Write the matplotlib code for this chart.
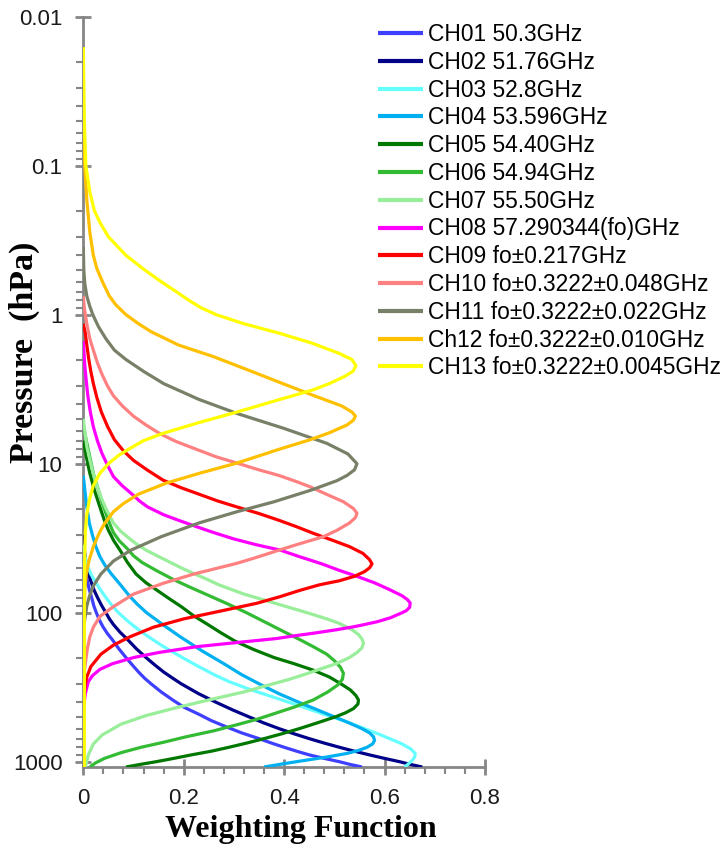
import matplotlib
matplotlib.use('Agg')
import matplotlib.pyplot as plt
from matplotlib.ticker import LogLocator, MultipleLocator, FuncFormatter, NullFormatter

plt.rcParams['font.family'] = ['Liberation Sans', 'DejaVu Sans']

# channel names and line colours
labels = ['CH01 50.3GHz', 'CH02 51.76GHz', 'CH03 52.8GHz', 'CH04 53.596GHz',
          'CH05 54.40GHz', 'CH06 54.94GHz', 'CH07 55.50GHz', 'CH08 57.290344(fo)GHz',
          'CH09 fo±0.217GHz', 'CH10 fo±0.3222±0.048GHz', 'CH11 fo±0.3222±0.022GHz',
          'Ch12 fo±0.3222±0.010GHz', 'CH13 fo±0.3222±0.0045GHz']
colors = ['#3F3FFF', '#000088', '#66FFFF', '#00B0F0', '#007800', '#33BB33', '#99EE99',
          '#FF00FF', '#FF0000', '#FF8080', '#788068', '#FFC000', '#FFFF00']

# weighting function profiles: pressure (hPa) and weight
ch01_p = [30, 38, 45, 53, 61, 70, 80, 90, 100, 112, 124, 138, 152, 175, 200, 225, 250, 275,
          300, 340, 385, 430, 480, 530, 580, 640, 700, 750, 800, 850, 900, 950, 1000, 1040, 1085]
ch01_w = [0, 0.001, 0.003, 0.005, 0.008, 0.012, 0.017, 0.021, 0.026, 0.032, 0.039, 0.048, 0.058,
          0.071, 0.085, 0.098, 0.11, 0.122, 0.135, 0.155, 0.178, 0.2, 0.23, 0.255, 0.283, 0.315,
          0.35, 0.375, 0.40, 0.425, 0.45, 0.48, 0.51, 0.53, 0.555]

ch02_p = [30, 38, 45, 52, 60, 70, 80, 90, 100, 110, 120, 135, 150, 175, 200, 225, 250, 275, 300,
          350, 400, 450, 500, 550, 600, 650, 700, 750, 800, 850, 900, 950, 1000, 1040, 1085]
ch02_w = [0, 0.002, 0.005, 0.009, 0.014, 0.021, 0.029, 0.037, 0.045, 0.052, 0.06, 0.073, 0.087,
          0.106, 0.125, 0.143, 0.16, 0.178, 0.195, 0.23, 0.265, 0.298, 0.33, 0.36, 0.39, 0.42,
          0.45, 0.48, 0.51, 0.54, 0.57, 0.6, 0.63, 0.65, 0.675]

ch03_p = [35, 38, 42, 48, 55, 62, 70, 80, 90, 100, 115, 130, 145, 165, 185, 205, 230, 260, 290,
          330, 370, 410, 450, 500, 540, 600, 650, 700, 760, 820, 880, 930, 980, 1030, 1085]
ch03_w = [0, 0.001, 0.003, 0.008, 0.015, 0.024, 0.034, 0.046, 0.058, 0.07, 0.09, 0.11, 0.13,
          0.155, 0.18, 0.203, 0.23, 0.26, 0.29, 0.335, 0.38, 0.42, 0.455, 0.495, 0.525, 0.56,
          0.587, 0.61, 0.635, 0.652, 0.661, 0.66, 0.655, 0.648, 0.64]

ch04_p = [12, 15, 19.5, 25, 30, 36, 42, 48, 55, 65, 78, 88, 100, 120, 145, 180, 220, 260, 300,
          350, 400, 450, 500, 550, 600, 640, 680, 720, 760, 800, 840, 880, 930, 975, 1030, 1085]
ch04_w = [0, 0.003, 0.007, 0.012, 0.018, 0.025, 0.033, 0.043, 0.056, 0.074, 0.093, 0.108, 0.126,
          0.158, 0.193, 0.236, 0.28, 0.315, 0.35, 0.39, 0.43, 0.467, 0.5, 0.53, 0.555, 0.57,
          0.578, 0.58, 0.576, 0.565, 0.548, 0.525, 0.485, 0.445, 0.4, 0.36]

ch05_p = [7, 9, 11.6, 15, 19.5, 24, 28, 33, 38, 46, 55, 63, 70, 80, 91, 105, 120, 137, 155, 177,
          200, 220, 243, 270, 300, 330, 360, 385, 410, 440, 470, 500, 550, 600, 650, 700, 750,
          800, 850, 900, 950, 1000, 1040, 1085]
ch05_w = [0, 0.006, 0.013, 0.022, 0.033, 0.042, 0.05, 0.061, 0.073, 0.088, 0.105, 0.125, 0.145,
          0.17, 0.195, 0.22, 0.248, 0.275, 0.302, 0.34, 0.38, 0.42, 0.458, 0.49, 0.513, 0.532,
          0.543, 0.548, 0.547, 0.538, 0.522, 0.502, 0.465, 0.43, 0.395, 0.36, 0.325, 0.29,
          0.255, 0.215, 0.18, 0.145, 0.115, 0.085]

ch06_p = [5.5, 7, 9, 12, 15, 18.5, 22, 25.5, 29, 33, 37, 41.5, 46, 52, 60, 68, 78, 88, 100, 117,
          137, 152, 169, 190, 210, 232, 255, 280, 305, 340, 385, 430, 470, 520, 560, 620, 680,
          740, 800, 870, 950, 1020, 1085]
ch06_w = [0, 0.006, 0.013, 0.021, 0.03, 0.038, 0.046, 0.053, 0.06, 0.072, 0.087, 0.1, 0.117,
          0.145, 0.18, 0.215, 0.255, 0.29, 0.325, 0.365, 0.405, 0.432, 0.458, 0.485, 0.5, 0.512,
          0.518, 0.516, 0.507, 0.487, 0.458, 0.42, 0.385, 0.345, 0.31, 0.26, 0.205, 0.16, 0.115,
          0.075, 0.042, 0.024, 0.013]

ch07_p = [5, 6, 7.7, 9.4, 11, 13, 15, 17, 20, 25, 28.5, 32, 35, 38, 42, 45, 50, 55, 60, 65, 75,
          86, 101, 110, 118, 130, 140, 150, 160, 172, 185, 200, 219, 240, 260, 280, 300, 340,
          385, 430, 490, 560, 660, 760, 900, 1085]
ch07_w = [0, 0.003, 0.007, 0.013, 0.018, 0.024, 0.03, 0.036, 0.045, 0.06, 0.075, 0.093, 0.108,
          0.125, 0.15, 0.168, 0.195, 0.222, 0.248, 0.27, 0.32, 0.38, 0.45, 0.485, 0.51, 0.535,
          0.548, 0.555, 0.558, 0.555, 0.545, 0.53, 0.505, 0.47, 0.44, 0.41, 0.378, 0.32, 0.25,
          0.19, 0.125, 0.075, 0.038, 0.02, 0.01, 0.004]

ch08_p = [1.5, 2.2, 2.8, 3.5, 4.5, 5.65, 7, 8.5, 10.2, 12.2, 14, 16, 17.8, 19.5, 22, 24, 26.5,
          29, 32, 35, 38, 42, 47, 52, 57, 63, 70, 77, 82, 86, 92, 97, 101, 108, 115, 120, 124,
          130, 137, 143, 149, 158, 169, 185, 200, 220, 240, 265, 290, 350, 450]
ch08_w = [0, 0.003, 0.006, 0.009, 0.014, 0.02, 0.028, 0.037, 0.048, 0.06, 0.077, 0.097, 0.112,
          0.128, 0.16, 0.19, 0.226, 0.26, 0.3, 0.345, 0.392, 0.43, 0.475, 0.51, 0.545, 0.58,
          0.61, 0.635, 0.646, 0.651, 0.65, 0.643, 0.632, 0.612, 0.585, 0.56, 0.54, 0.505, 0.46,
          0.42, 0.385, 0.31, 0.226, 0.15, 0.1, 0.058, 0.033, 0.018, 0.01, 0.004, 0]

ch09_p = [1.15, 1.33, 1.6, 2, 2.4, 2.9, 3.6, 4.5, 5.6, 6.9, 8.2, 9.5, 11, 12.9, 14.5, 16, 17.8,
          19.5, 21.6, 24, 26.5, 29.3, 33, 36, 40, 44, 47, 50, 53, 57, 61, 65, 71, 78, 86.5, 98,
          110, 125, 145, 165, 190, 230, 270, 300, 350, 400]
ch09_w = [0, 0.004, 0.007, 0.011, 0.015, 0.02, 0.027, 0.036, 0.048, 0.062, 0.08, 0.1, 0.127,
          0.159, 0.195, 0.23, 0.268, 0.306, 0.35, 0.39, 0.425, 0.458, 0.5, 0.53, 0.557, 0.57,
          0.575, 0.57, 0.56, 0.54, 0.51, 0.47, 0.43, 0.392, 0.345, 0.27, 0.2, 0.14, 0.093, 0.06,
          0.035, 0.015, 0.007, 0.004, 0.002, 0]

ch10_p = [0.75, 0.9, 1.0, 1.2, 1.45, 1.73, 2.1, 2.5, 3.0, 3.5, 4.1, 4.8, 5.5, 6.3, 7.1, 8, 9,
          9.9, 11, 12, 13.2, 14.3, 15.8, 18, 20, 21.5, 23, 25, 28, 30.9, 34.5, 38, 42, 46.6,
          55, 63.5, 75, 91, 106, 125, 145, 175, 207, 250, 300]
ch10_w = [0, 0.002, 0.004, 0.008, 0.013, 0.02, 0.028, 0.037, 0.048, 0.06, 0.078, 0.1, 0.125,
          0.153, 0.185, 0.225, 0.265, 0.306, 0.35, 0.39, 0.425, 0.452, 0.48, 0.518, 0.538,
          0.545, 0.542, 0.53, 0.505, 0.478, 0.43, 0.39, 0.35, 0.306, 0.22, 0.159, 0.1, 0.06,
          0.033, 0.02, 0.013, 0.008, 0.005, 0.002, 0]

ch11_p = [0.35, 0.5, 0.62, 0.75, 0.88, 1.0, 1.2, 1.45, 1.73, 2.0, 2.4, 2.9, 3.7, 4.6, 5.8, 7.3,
          8.6, 10, 11, 12, 13, 15.1, 18, 21, 25, 30.9, 38, 45, 55, 66, 78, 90, 110, 130, 150]
ch11_w = [0, 0.001, 0.003, 0.007, 0.013, 0.019, 0.03, 0.045, 0.062, 0.085, 0.12, 0.16, 0.23,
          0.306, 0.4, 0.485, 0.527, 0.545, 0.54, 0.525, 0.505, 0.452, 0.38, 0.306, 0.23, 0.155,
          0.095, 0.06, 0.035, 0.02, 0.012, 0.007, 0.003, 0.001, 0]

ch12_p = [0.06, 0.1, 0.17, 0.28, 0.4, 0.49, 0.62, 0.75, 0.86, 1.0, 1.15, 1.3, 1.6, 1.91, 2.4,
          2.88, 3.5, 4.1, 4.5, 4.79, 5.1, 5.5, 6.2, 6.9, 8, 9.9, 11.5, 13.5, 16, 18.5, 21, 25,
          29, 36, 45, 55, 70, 100, 1085]
ch12_w = [0, 0.003, 0.007, 0.013, 0.02, 0.027, 0.04, 0.052, 0.065, 0.085, 0.11, 0.135, 0.19,
          0.259, 0.335, 0.395, 0.46, 0.515, 0.535, 0.542, 0.538, 0.525, 0.49, 0.452, 0.39,
          0.306, 0.235, 0.165, 0.11, 0.08, 0.06, 0.043, 0.032, 0.02, 0.011, 0.006, 0.003,
          0.002, 0.001]

ch13_p = [0.016, 0.05, 0.1, 0.15, 0.2, 0.24, 0.3, 0.4, 0.5, 0.6, 0.7, 0.8, 0.9, 1.0, 1.15, 1.33,
          1.55, 1.82, 2.0, 2.2, 2.4, 2.6, 2.9, 3.2, 3.8, 4.5, 5.3, 6.25, 7, 8, 8.8, 10, 11.6, 14,
          17.5, 22, 29, 40, 60, 1085]
ch13_w = [0, 0.002, 0.005, 0.013, 0.022, 0.033, 0.05, 0.085, 0.122, 0.155, 0.185, 0.21, 0.235,
          0.265, 0.32, 0.39, 0.455, 0.51, 0.535, 0.543, 0.537, 0.52, 0.49, 0.457, 0.38, 0.306,
          0.23, 0.159, 0.12, 0.09, 0.07, 0.05, 0.033, 0.02, 0.012, 0.007, 0.004, 0.003, 0.002,
          0.002]

pressures = [ch01_p, ch02_p, ch03_p, ch04_p, ch05_p, ch06_p, ch07_p,
             ch08_p, ch09_p, ch10_p, ch11_p, ch12_p, ch13_p]
weights = [ch01_w, ch02_w, ch03_w, ch04_w, ch05_w, ch06_w, ch07_w,
           ch08_w, ch09_w, ch10_w, ch11_w, ch12_w, ch13_w]

W, H = 727, 849
axis_grey = '#868686'

fig = plt.figure(figsize=(W / 100, H / 100), dpi=100)
ax = fig.add_axes([83.3 / W, 1 - 767 / H, (485 - 83.3) / W, (767 - 16.7) / H])

for lab, col, w, p in zip(labels, colors, weights, pressures):
    ax.plot(w, p, color=col, lw=2.3, label=lab, zorder=3,
            solid_joinstyle='round', solid_capstyle='butt')

ax.set_yscale('log')
ax.set_ylim(1085, 0.01)
ax.set_xlim(0, 0.8)

for side in ['top', 'right']:
    ax.spines[side].set_visible(False)
for side in ['left', 'bottom']:
    ax.spines[side].set_color(axis_grey)
    ax.spines[side].set_linewidth(2)

ax.set_xticks([0, 0.2, 0.4, 0.6, 0.8])
ax.xaxis.set_minor_locator(MultipleLocator(0.04))
ax.set_yticks([0.01, 0.1, 1, 10, 100, 1000])
ax.yaxis.set_minor_locator(LogLocator(base=10, subs=range(2, 10)))
ax.yaxis.set_minor_formatter(NullFormatter())
fmt = FuncFormatter(lambda v, _: f'{v:g}')
ax.xaxis.set_major_formatter(fmt)
ax.yaxis.set_major_formatter(fmt)

ax.tick_params(axis='both', which='major', direction='inout', length=12, width=2,
               color=axis_grey, labelsize=16, labelcolor='#1a1a1a')
ax.tick_params(axis='y', which='major', pad=9)
ax.tick_params(axis='x', which='major', pad=9)
ax.tick_params(axis='both', which='minor', direction='out', length=5, width=1.5,
               color=axis_grey)

fig.text(24 / W, 1 - 352 / H, 'Pressure  (hPa)', rotation=90, ha='center', va='center',
         family='Liberation Serif', weight='bold', size=24.5)
fig.text(301 / W, 1 - 830 / H, 'Weighting Function', ha='center', va='center',
         family='Liberation Serif', weight='bold', size=23)

leg = ax.legend(loc='upper left', bbox_to_anchor=(378 / W, 1 - 23 / H),
                bbox_transform=fig.transFigure, frameon=False, fontsize=16.4,
                handlelength=1.97, handletextpad=0.22, labelspacing=0.21,
                borderpad=0, borderaxespad=0)
for line in leg.get_lines():
    line.set_linewidth(3)

fig.savefig('out.png', dpi=100)
